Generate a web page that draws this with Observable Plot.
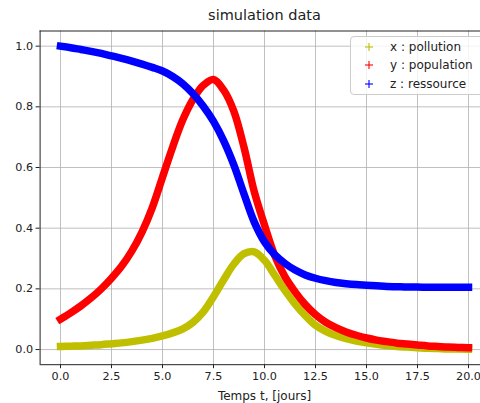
<!DOCTYPE html>
<html>
<head>
<meta charset="utf-8">
<script src="https://cdn.jsdelivr.net/npm/d3@7"></script>
<script src="https://cdn.jsdelivr.net/npm/@observablehq/plot@0.6"></script>
<style>
  html, body { margin: 0; padding: 0; background: #fff; overflow: hidden; }
  #chart { position: relative; width: 480px; height: 403px; font-family: "DejaVu Sans", sans-serif; }
  #legend {
    position: absolute; left: 350px; top: 36px; width: 136px; height: 59px;
    border: 1px solid #cccccc; border-radius: 4px; background: rgba(255,255,255,0.8);
    box-sizing: border-box;
  }
  .row { position: absolute; left: 0; height: 18px; line-height: 18px; font-size: 12px; color: #222; white-space: nowrap; }
  .row svg { position: absolute; left: 13px; top: 4px; }
  .row span { position: absolute; left: 39px; }
</style>
</head>
<body>
<div id="chart"></div>
<script>
// time axis (days)
const days = [0, 0.5, 1, 1.5, 2, 2.5, 3, 3.5, 4, 4.5, 5, 5.5, 6, 6.5, 7, 7.5, 8, 8.5, 9, 9.5,
  10, 10.5, 11, 11.5, 12, 12.5, 13, 13.5, 14, 14.5, 15, 15.5, 16, 16.5, 17, 17.5, 18, 18.5, 19, 19.5, 20];

// x : pollution
const pollution = [0.010, 0.011, 0.012, 0.014, 0.016, 0.019, 0.022, 0.026, 0.031, 0.037,
  0.045, 0.055, 0.068, 0.090, 0.124, 0.174, 0.230, 0.282, 0.316, 0.322,
  0.294, 0.245, 0.195, 0.150, 0.112, 0.080, 0.060, 0.046, 0.036, 0.028,
  0.022, 0.017, 0.013, 0.010, 0.008, 0.006, 0.004, 0.003, 0.002, 0.002, 0.001];

// y : population
const population = [0.100, 0.121, 0.144, 0.170, 0.200, 0.235, 0.275, 0.325, 0.388, 0.468,
  0.568, 0.668, 0.758, 0.825, 0.871, 0.890, 0.855, 0.785, 0.665, 0.520,
  0.410, 0.310, 0.240, 0.190, 0.148, 0.115, 0.090, 0.072, 0.058, 0.047,
  0.038, 0.031, 0.026, 0.021, 0.018, 0.015, 0.012, 0.010, 0.008, 0.007, 0.006];

// z : ressource
const ressource = [1.000, 0.995, 0.989, 0.983, 0.976, 0.968, 0.960, 0.951, 0.941, 0.930,
  0.918, 0.900, 0.876, 0.843, 0.802, 0.752, 0.688, 0.608, 0.512, 0.420,
  0.355, 0.313, 0.284, 0.262, 0.246, 0.235, 0.227, 0.221, 0.217, 0.214,
  0.212, 0.210, 0.208, 0.207, 0.206, 0.206, 0.205, 0.205, 0.205, 0.205, 0.205];

const seriesNames = ["x : pollution", "y : population", "z : ressource"];
const seriesColors = ["#bfbf00", "#ff0000", "#0000ff"];
const seriesValues = [pollution, population, ressource];

const xTicks = [0, 2.5, 5, 7.5, 10, 12.5, 15, 17.5, 20];
const yTicks = [0, 0.2, 0.4, 0.6, 0.8, 1.0];
const xDomain = [-1, 21];
const yDomain = [-0.05, 1.05];
const xMid = (xDomain[0] + xDomain[1]) / 2;

const title = "simulation data";
const xLabel = "Temps t, [jours]";

const rows = seriesValues.map((vals, i) =>
  days.map((t, j) => ({t, v: vals[j], name: seriesNames[i]})));

const fmt = d3.format(".1f");

const chart = Plot.plot({
  width: 480,
  height: 403,
  marginTop: 30.5,
  marginBottom: 38.8,
  marginLeft: 39.6,
  marginRight: 0,
  style: {fontFamily: "DejaVu Sans", fontSize: "11.2px", color: "#222", background: "white", overflow: "hidden"},
  x: {domain: xDomain, range: [39.6, 488.4]},
  y: {domain: yDomain},
  marks: [
    Plot.ruleX(xTicks, {stroke: "#b0b0b0", strokeWidth: 0.8}),
    Plot.ruleY(yTicks, {stroke: "#b0b0b0", strokeWidth: 0.8}),
    ...rows.map((r, i) => Plot.line(r, {
      x: "t", y: "v", stroke: seriesColors[i], strokeWidth: 7.5,
      curve: "catmull-rom", strokeLinecap: "square", strokeLinejoin: "round"
    })),
    Plot.ruleX([xDomain[0]], {stroke: "#222", strokeWidth: 1}),
    Plot.ruleY(yDomain, {stroke: "#222", strokeWidth: 1}),
    Plot.axisX(xTicks, {tickFormat: fmt, tickSize: 4, tickPadding: 3, label: null, stroke: "#222", fill: "#222"}),
    Plot.axisY(yTicks, {tickFormat: fmt, tickSize: 4, tickPadding: 3, label: null, stroke: "#222", fill: "#222"}),
    Plot.text([title], {x: () => xMid, text: d => d, frameAnchor: "top", dy: -15.5,
      lineAnchor: "middle", fontSize: 14.5, fill: "#222"}),
    Plot.text([xLabel], {x: () => xMid, text: d => d, frameAnchor: "bottom", dy: 31,
      lineAnchor: "middle", fontSize: 12, fill: "#222"})
  ]
});

const root = document.getElementById("chart");
root.appendChild(chart);

// legend box in the upper right corner
const legend = document.createElement("div");
legend.id = "legend";
seriesNames.forEach((name, i) => {
  const row = document.createElement("div");
  row.className = "row";
  row.style.top = (0.7 + i * 18.7) + "px";
  row.innerHTML = `<svg width="10" height="10" viewBox="0 0 10 10">
      <line x1="5" y1="1" x2="5" y2="9" stroke="${seriesColors[i]}" stroke-width="1.1"/>
      <line x1="1" y1="5" x2="9" y2="5" stroke="${seriesColors[i]}" stroke-width="1.1"/>
    </svg><span>${name}</span>`;
  legend.appendChild(row);
});
root.appendChild(legend);
</script>
</body>
</html>
